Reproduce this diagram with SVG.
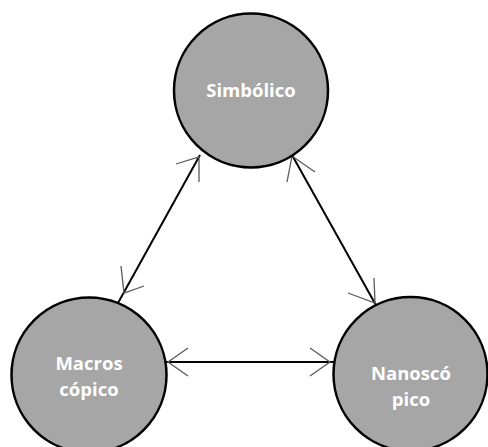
<svg xmlns="http://www.w3.org/2000/svg" width="488" height="447" viewBox="0 0 488 447">
<style>
.node{fill:#a6a6a6;stroke:#000;stroke-width:2.5}
.lbl{font-family:"Open Sans","Noto Sans",sans-serif;font-weight:bold;font-size:18.5px;fill:#fff;text-anchor:middle}
.edge{stroke:#000;stroke-width:2;fill:none}
.head{stroke:#595959;stroke-width:1.3;fill:none}
</style>
<rect width="488" height="447" fill="#fff"/>
<g id="connectors">
<line class="edge" x1="118" y1="303" x2="200" y2="155"/>
<path class="head" d="M176,164 L199,157 L199,182"/>
<path class="head" d="M121,266 L124,293 L144,286"/>
<line class="edge" x1="292" y1="155" x2="377" y2="307"/>
<path class="head" d="M315,172 L292,156 L287,182"/>
<path class="head" d="M348,293 L375,303 L374,278"/>
<line class="edge" x1="165" y1="362" x2="335" y2="362"/>
<path class="head" d="M188,348 L168,362 L188,376"/>
<path class="head" d="M310,348 L330,362 L310,376"/>
</g>
<g id="simbolico">
<circle class="node" cx="251" cy="90.5" r="77"/>
<text class="lbl" x="251" y="97">Simbólico</text>
</g>
<g id="macroscopico">
<circle class="node" cx="89" cy="375" r="77.5"/>
<text class="lbl" x="89" y="370">Macros</text>
<text class="lbl" x="89" y="396">cópico</text>
</g>
<g id="nanoscopico">
<circle class="node" cx="410.5" cy="374" r="77"/>
<text class="lbl" x="411" y="380">Nanoscó</text>
<text class="lbl" x="411" y="406">pico</text>
</g>
</svg>
